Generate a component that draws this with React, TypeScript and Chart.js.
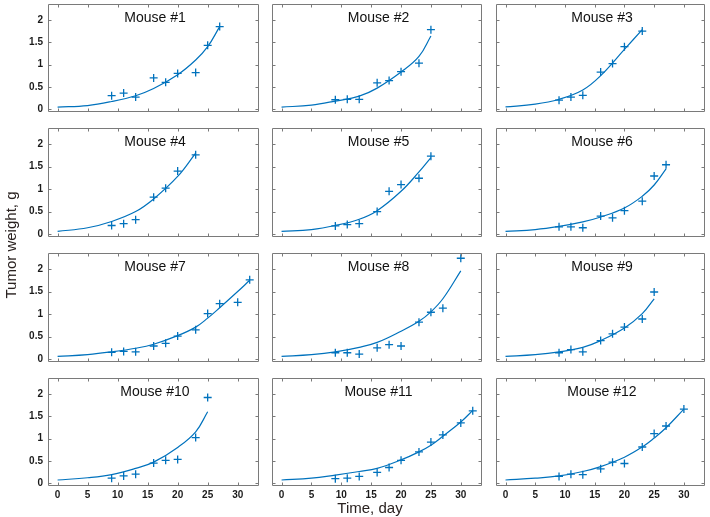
import React, { useEffect, useRef } from 'react';
import { Chart, registerables } from 'chart.js';
Chart.register(...registerables);

// ---- data ----
const pointDays = [9, 11, 13, 16, 18, 20, 23, 25, 27, 30, 32];
const fitDays = [0, 5, 9, 13, 16, 20, 23, 25, 27, 30, 32];
const xTicks = [0, 5, 10, 15, 20, 25, 30];
const xTickLabels = ['0', '5', '10', '15', '20', '25', '30'];
const yTicks = [0, 0.5, 1, 1.5, 2];
const yTickLabels = ['0', '0.5', '1', '1.5', '2'];
const mouseNames = ['Mouse #1', 'Mouse #2', 'Mouse #3', 'Mouse #4', 'Mouse #5', 'Mouse #6',
  'Mouse #7', 'Mouse #8', 'Mouse #9', 'Mouse #10', 'Mouse #11', 'Mouse #12'];

const weights1 = [0.30, 0.36, 0.27, 0.70, 0.60, 0.80, 0.82, 1.43, 1.85];
const weights2 = [0.21, 0.22, 0.22, 0.59, 0.64, 0.84, 1.03, 1.78];
const weights3 = [0.20, 0.27, 0.31, 0.83, 1.02, 1.40, 1.75];
const weights4 = [0.19, 0.23, 0.32, 0.82, 1.02, 1.40, 1.76];
const weights5 = [0.18, 0.21, 0.23, 0.50, 0.95, 1.10, 1.24, 1.73];
const weights6 = [0.16, 0.16, 0.14, 0.40, 0.36, 0.52, 0.73, 1.29, 1.54];
const weights7 = [0.15, 0.17, 0.16, 0.29, 0.35, 0.51, 0.65, 1.01, 1.23, 1.26, 1.76];
const weights8 = [0.14, 0.14, 0.11, 0.25, 0.32, 0.29, 0.82, 1.04, 1.13, 2.24];
const weights9 = [0.14, 0.21, 0.16, 0.41, 0.56, 0.71, 0.89, 1.49];
const weights10 = [0.11, 0.16, 0.20, 0.45, 0.51, 0.53, 1.02, 1.92];
const weights11 = [0.10, 0.11, 0.15, 0.24, 0.35, 0.51, 0.70, 0.92, 1.08, 1.35, 1.62];
const weights12 = [0.15, 0.20, 0.19, 0.32, 0.47, 0.44, 0.81, 1.11, 1.28, 1.66];

const fit1 = [0.045, 0.08, 0.17, 0.30, 0.46, 0.77, 1.10, 1.40, 1.85];
const fit2 = [0.045, 0.09, 0.18, 0.29, 0.47, 0.83, 1.18, 1.64];
const fit3 = [0.05, 0.11, 0.22, 0.43, 0.75, 1.34, 1.78];
const fit4 = [0.06, 0.14, 0.28, 0.50, 0.78, 1.28, 1.80];
const fit5 = [0.06, 0.10, 0.19, 0.33, 0.52, 0.95, 1.38, 1.70];
const fit6 = [0.06, 0.10, 0.17, 0.27, 0.38, 0.58, 0.84, 1.09, 1.45];
const fit7 = [0.06, 0.10, 0.16, 0.24, 0.33, 0.52, 0.71, 0.91, 1.14, 1.50, 1.75];
const fit8 = [0.06, 0.10, 0.16, 0.26, 0.37, 0.62, 0.84, 1.05, 1.34, 1.96];
const fit9 = [0.06, 0.10, 0.16, 0.26, 0.41, 0.69, 1.01, 1.34];
const fit10 = [0.07, 0.12, 0.19, 0.33, 0.47, 0.80, 1.15, 1.60];
const fit11 = [0.07, 0.11, 0.18, 0.26, 0.33, 0.52, 0.70, 0.85, 1.05, 1.37, 1.63];
const fit12 = [0.07, 0.11, 0.16, 0.26, 0.37, 0.58, 0.81, 1.01, 1.24, 1.66];

const weights = [weights1, weights2, weights3, weights4, weights5, weights6,
  weights7, weights8, weights9, weights10, weights11, weights12];
const fits = [fit1, fit2, fit3, fit4, fit5, fit6, fit7, fit8, fit9, fit10, fit11, fit12];

// ---- layout / style ----
const FONT = "'Liberation Sans', Arial, sans-serif";
const BLUE = '#0072BD';
const colLeft = [48, 272, 496];
const colRight = [262, 485, 708];
const rowTop = [1, 125, 250, 375];
const rowBottom = [112, 237, 362, 486];
const AXW = 44;
const AXH = 22;
const PADT = 2;
const PADR = 2;
const X_MIN = -1.6;
const X_MAX = 33.5;
const Y_MIN = -0.065;
const Y_MAX = 2.35;

const boxPlugin = {
  id: 'matlabBox',
  afterDatasetsDraw(chart: any) {
    const { ctx, chartArea, scales } = chart;
    const l = Math.round(chartArea.left) + 0.5;
    const r = Math.round(chartArea.right) - 0.5;
    const t = Math.round(chartArea.top) + 0.5;
    const b = Math.round(chartArea.bottom) - 0.5;
    ctx.save();
    ctx.strokeStyle = '#7a7a7a';
    ctx.lineWidth = 1;
    ctx.beginPath();
    ctx.rect(l, t, r - l, b - t);
    xTicks.forEach((v) => {
      const px = Math.round(scales.x.getPixelForValue(v)) + 0.5;
      ctx.moveTo(px, b); ctx.lineTo(px, b - 3);
      ctx.moveTo(px, t); ctx.lineTo(px, t + 3);
    });
    yTicks.forEach((v) => {
      const py = Math.round(scales.y.getPixelForValue(v)) + 0.5;
      ctx.moveTo(l, py); ctx.lineTo(l + 3, py);
      ctx.moveTo(r, py); ctx.lineTo(r - 3, py);
    });
    ctx.stroke();
    ctx.restore();
  },
};

export default function App() {
  const refs = useRef<(HTMLCanvasElement | null)[]>([]);

  useEffect(() => {
    const charts = weights.map((w, i) => {
      const row = Math.floor(i / 3);
      const col = i % 3;
      const cv = refs.current[i] as HTMLCanvasElement;
      return new Chart(cv, {
        type: 'scatter',
        data: {
          datasets: [
            {
              type: 'line',
              data: fits[i].map((v, k) => ({ x: fitDays[k], y: v })),
              borderColor: BLUE,
              borderWidth: 1.2,
              pointRadius: 0,
              tension: 0.4,
              fill: false,
              showLine: true,
            } as any,
            {
              data: w.map((v, k) => ({ x: pointDays[k], y: v })),
              pointStyle: 'cross',
              pointRadius: 4,
              borderColor: BLUE,
              backgroundColor: BLUE,
              borderWidth: 1.3,
              showLine: false,
            } as any,
          ],
        },
        options: {
          responsive: false,
          animation: false,
          devicePixelRatio: 1,
          events: [],
          layout: { padding: { top: PADT, right: PADR, left: 0, bottom: 0 } },
          plugins: { legend: { display: false }, tooltip: { enabled: false }, title: { display: false } },
          scales: {
            x: {
              type: 'linear',
              min: X_MIN,
              max: X_MAX,
              grid: { display: false, drawTicks: false },
              border: { display: false },
              afterBuildTicks: (s: any) => { s.ticks = xTicks.map((v) => ({ value: v })); },
              afterFit: (s: any) => {
                s.height = AXH; s.paddingLeft = 0; s.paddingRight = 0; s.paddingTop = 0; s.paddingBottom = 0;
              },
              ticks: {
                display: row === 3,
                padding: 3,
                color: '#1a1a1a',
                font: { size: 10, weight: 'bold', family: FONT },
                maxRotation: 0,
                autoSkip: false,
                callback: (_v: any, idx: number) => xTickLabels[idx],
              },
            },
            y: {
              type: 'linear',
              min: Y_MIN,
              max: Y_MAX,
              grid: { display: false, drawTicks: false },
              border: { display: false },
              afterBuildTicks: (s: any) => { s.ticks = yTicks.map((v) => ({ value: v })); },
              afterFit: (s: any) => {
                s.width = AXW; s.paddingLeft = 0; s.paddingRight = 0; s.paddingTop = 0; s.paddingBottom = 0;
              },
              ticks: {
                display: col === 0,
                padding: 5,
                color: '#1a1a1a',
                font: { size: 10, weight: 'bold', family: FONT },
                autoSkip: false,
                callback: (_v: any, idx: number) => yTickLabels[idx],
              },
            },
          },
        } as any,
        plugins: [boxPlugin],
      });
    });
    return () => charts.forEach((c) => c.destroy());
  }, []);

  return (
    <div style={{ position: 'absolute', left: 0, top: 0, width: 710, height: 517, background: '#fff', fontFamily: FONT }}>
      {weights.map((_w, i) => {
        const row = Math.floor(i / 3);
        const col = i % 3;
        const L = colLeft[col], R = colRight[col], T = rowTop[row], B = rowBottom[row];
        const width = R - L + AXW + PADR;
        const height = B - T + PADT + AXH;
        return (
          <canvas
            key={'c' + i}
            ref={(el) => { refs.current[i] = el; }}
            width={width}
            height={height}
            style={{ position: 'absolute', left: L - AXW, top: T - PADT, width, height }}
          />
        );
      })}
      {mouseNames.map((name, i) => {
        const row = Math.floor(i / 3);
        const col = i % 3;
        const L = colLeft[col], R = colRight[col], T = rowTop[row];
        return (
          <div key={'t' + i} style={{ position: 'absolute', left: L, width: R - L, top: T + 8, height: 16, lineHeight: '16px', textAlign: 'center', fontSize: 14, color: '#111', whiteSpace: 'nowrap' }}>
            {name}
          </div>
        );
      })}
      <div style={{ position: 'absolute', left: 11 - 100, top: 245 - 10, width: 200, height: 20, lineHeight: '20px', textAlign: 'center', fontSize: 15, color: '#2a2220', transform: 'rotate(-90deg)', whiteSpace: 'nowrap' }}>
        Tumor weight, g
      </div>
      <div style={{ position: 'absolute', left: 270, top: 499, width: 200, height: 18, lineHeight: '18px', textAlign: 'center', fontSize: 15, color: '#2a2220', whiteSpace: 'nowrap' }}>
        Time, day
      </div>
    </div>
  );
}
